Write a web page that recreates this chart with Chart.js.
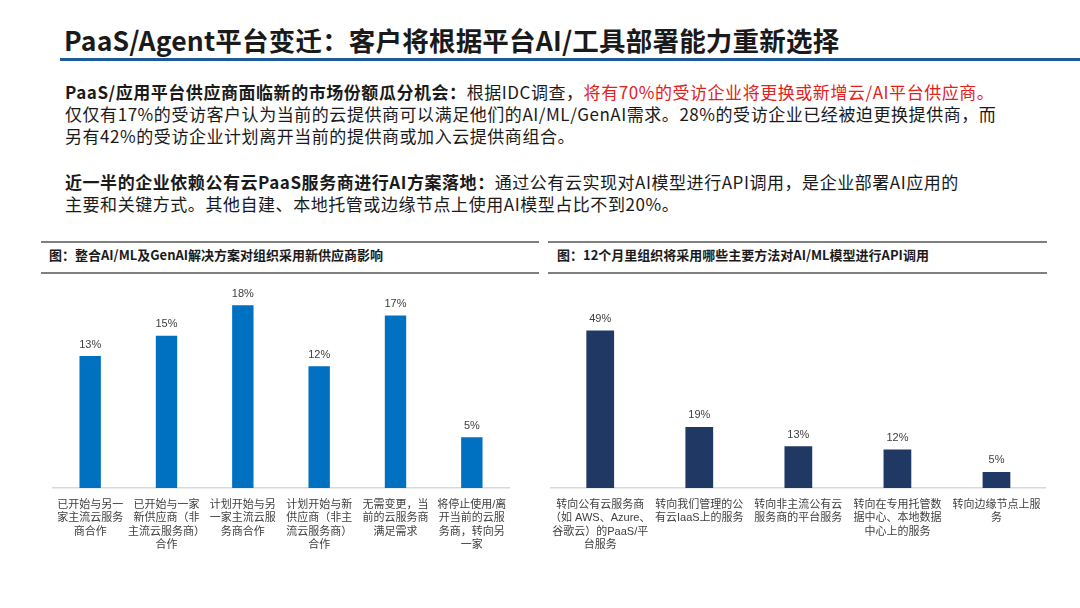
<!DOCTYPE html>
<html>
<head>
<meta charset="utf-8">
<script src="https://cdn.jsdelivr.net/npm/chart.js@4/dist/chart.umd.min.js"></script>
<style>
  body { margin: 0; background: #fff; width: 1080px; height: 608px; overflow: hidden; position: relative;
         font-family: "Noto Sans CJK SC", sans-serif; color: #1a1a1a; }
  .abs { position: absolute; white-space: nowrap; }
  #title { left: 64px; top: 22px; font-size: 26.5px; font-weight: bold; line-height: 36px; letter-spacing: 0.2px; }
  #titleLine { left: 60px; top: 58px; width: 1020px; height: 3px; background: #1f5a96; }
  .para { left: 65px; font-size: 17px; line-height: 22px; letter-spacing: 0.55px; }
  .para b { font-weight: bold; }
  .red { color: #e3211c; }
  .rule { height: 2px; background: #7f7f7f; }
  .cap { font-size: 13px; font-weight: bold; line-height: 16px; }
</style>
</head>
<body>
<div class="abs" id="title">PaaS/Agent平台变迁：客户将根据平台AI/工具部署能力重新选择</div>
<div class="abs" id="titleLine"></div>

<div class="abs para" style="top:81px;">
<b>PaaS/应用平台供应商面临新的市场份额瓜分机会：</b>根据IDC调查，<span class="red">将有70%的受访企业将更换或新增云/AI平台供应商。</span><br>
仅仅有17%的受访客户认为当前的云提供商可以满足他们的AI/ML/GenAI需求。28%的受访企业已经被迫更换提供商，而<br>
另有42%的受访企业计划离开当前的提供商或加入云提供商组合。
</div>
<div class="abs para" style="top:171px;">
<b>近一半的企业依赖公有云PaaS服务商进行AI方案落地：</b>通过公有云实现对AI模型进行API调用，是企业部署AI应用的<br>
主要和关键方式。其他自建、本地托管或边缘节点上使用AI模型占比不到20%。
</div>

<div class="abs rule" style="left:41px; top:241px; width:498px;"></div>
<div class="abs cap" style="left:49px; top:247px;">图：整合AI/ML及GenAI解决方案对组织采用新供应商影响</div>
<div class="abs rule" style="left:41px; top:272px; width:498px;"></div>

<div class="abs rule" style="left:548px; top:241px; width:499px;"></div>
<div class="abs cap" style="left:557px; top:247px;">图：12个月里组织将采用哪些主要方法对AI/ML模型进行API调用</div>
<div class="abs rule" style="left:548px; top:272px; width:499px;"></div>

<div class="abs" style="left:52px; top:280px; width:458px; height:278px;"><canvas id="leftChart"></canvas></div>
<div class="abs" style="left:548px; top:280px; width:498px; height:278px;"><canvas id="rightChart"></canvas></div>

<script>
// left chart: impact of AI/ML & GenAI on vendor choice (%)
const leftCategories = [
  ['已开始与另一', '家主流云服务', '商合作'],
  ['已开始与一家', '新供应商（非', '主流云服务商）', '合作'],
  ['计划开始与另', '一家主流云服', '务商合作'],
  ['计划开始与新', '供应商（非主', '流云服务商）', '合作'],
  ['无需变更，当', '前的云服务商', '满足需求'],
  ['将停止使用/离', '开当前的云服', '务商，转向另', '一家']
];
const leftValues = [13, 15, 18, 12, 17, 5];

// right chart: main approaches for AI/ML model API calls in 12 months (%)
const rightCategories = [
  ['转向公有云服务商', '（如 AWS、Azure、', '谷歌云）的PaaS/平', '台服务'],
  ['转向我们管理的公', '有云IaaS上的服务'],
  ['转向非主流公有云', '服务商的平台服务'],
  ['转向在专用托管数', '据中心、本地数据', '中心上的服务'],
  ['转向边缘节点上服', '务']
];
const rightValues = [49, 19, 13, 12, 5];

const labelFont = '"Liberation Sans", "Noto Sans CJK SC", sans-serif';

const valueLabels = {
  id: 'valueLabels',
  afterDatasetsDraw(chart) {
    const ctx = chart.ctx;
    ctx.save();
    ctx.font = '11px ' + labelFont;
    ctx.fillStyle = '#404040';
    ctx.textAlign = 'center';
    ctx.textBaseline = 'bottom';
    chart.getDatasetMeta(0).data.forEach((bar, i) => {
      ctx.fillText(chart.data.datasets[0].data[i] + '%', bar.x, bar.y - 6);
    });
    ctx.restore();
  }
};

function makeChart(id, labels, values, color, yMax, barPct) {
  return new Chart(document.getElementById(id).getContext('2d'), {
    type: 'bar',
    data: {
      labels: labels,
      datasets: [{
        data: values,
        backgroundColor: color,
        categoryPercentage: 1,
        barPercentage: barPct
      }]
    },
    options: {
      responsive: true,
      maintainAspectRatio: false,
      animation: false,
      layout: { padding: 0 },
      plugins: { legend: { display: false }, tooltip: { enabled: false } },
      scales: {
        x: {
          grid: { display: false },
          border: { display: true, color: '#d9d9d9', width: 1.5 },
          ticks: {
            color: '#404040',
            padding: 2,
            maxRotation: 0,
            autoSkip: false,
            font: { family: labelFont, size: 11, lineHeight: 1.23 }
          },
          afterFit(scale) { scale.height = 70; }
        },
        y: { display: false, min: 0, max: yMax }
      }
    },
    plugins: [valueLabels]
  });
}

makeChart('leftChart', leftCategories, leftValues, '#0070c0', 20.5, 0.28);
makeChart('rightChart', rightCategories, rightValues, '#1f3864', 64.7, 0.28);
</script>
</body>
</html>
